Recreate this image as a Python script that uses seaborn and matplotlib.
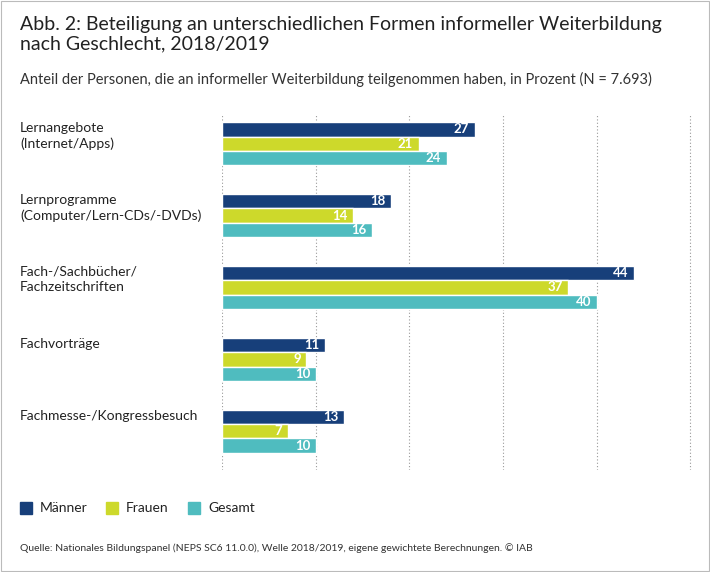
import pandas as pd
import matplotlib.pyplot as plt
import seaborn as sns
from matplotlib.patches import Rectangle

categories = ['Lernangebote\n(Internet/Apps)',
              'Lernprogramme\n(Computer/Lern-CDs/-DVDs)',
              'Fach-/Sachbücher/\nFachzeitschriften',
              'Fachvorträge',
              'Fachmesse-/Kongressbesuch']
maenner = [27, 18, 44, 11, 13]
frauen = [21, 14, 37, 9, 7]
gesamt = [24, 16, 40, 10, 10]
groups = ['Männer', 'Frauen', 'Gesamt']
colors = ['#173f7a', '#cdd92b', '#4fbcbf']

df = pd.DataFrame({'kat': categories * 3,
                   'gruppe': [g for g in groups for _ in categories],
                   'wert': maenner + frauen + gesamt})

sns.set_style('white')
plt.rcParams['font.family'] = ['Lato', 'DejaVu Sans']

fig = plt.figure(figsize=(7.1, 5.72), dpi=100)
fig.patches.append(Rectangle((0.002, 0.002), 0.996, 0.996, transform=fig.transFigure,
                             fill=False, edgecolor='#bbbbbb', lw=0.8))
ax = fig.add_axes([222 / 710, 1 - 470 / 572, (692 - 222) / 710, (470 - 115) / 572])
sns.barplot(data=df, y='kat', x='wert', hue='gruppe', palette=colors, orient='h',
            width=0.6, ax=ax, legend=False, saturation=1)
ax.set_xlim(0, 50.2)
ax.set_ylim(4.54, -0.4)
ax.set_xticks(range(0, 51, 10))
ax.set_xticklabels([])
ax.set_yticks([])
ax.set_xlabel('')
ax.set_ylabel('')
for s in ax.spines.values():
    s.set_visible(False)
ax.grid(axis='x', color='#999999', linestyle=(0, (1, 2)), lw=0.8)
ax.set_axisbelow(True)
ax.tick_params(length=0)

for cont in ax.containers:
    ax.bar_label(cont, padding=-4, color='white', fontweight='bold', fontsize=9.5,
                 label_type='edge', labels=[f'{int(v)}' for v in cont.datavalues])
    for t in ax.texts[-len(cont.datavalues):]:
        t.set_ha('right')

for i, c in enumerate(categories):
    ax.text(-202 / 470 * 50.2, i - 0.3, c, ha='left', va='top', fontsize=10, color='#222222',
            linespacing=1.3)

fig.text(20 / 710, 1 - 16 / 572, 'Abb. 2: Beteiligung an unterschiedlichen Formen informeller Weiterbildung\nnach Geschlecht, 2018/2019',
         ha='left', va='top', fontsize=14, color='#222222', linespacing=1.2)
fig.text(20 / 710, 1 - 72 / 572, 'Anteil der Personen, die an informeller Weiterbildung teilgenommen haben, in Prozent (N = 7.693)',
         ha='left', va='top', fontsize=10.5, color='#333333')

lx = [20, 106, 188]
for x, g, col in zip(lx, groups, colors):
    fig.patches.append(Rectangle((x / 710, 1 - 514 / 572), 12 / 710, 12 / 572,
                                 transform=fig.transFigure, color=col))
    fig.text((x + 20) / 710, 1 - 508 / 572, g, ha='left', va='center', fontsize=10, color='#222222')

fig.text(20 / 710, 1 - 548 / 572,
         'Quelle: Nationales Bildungspanel (NEPS SC6 11.0.0), Welle 2018/2019, eigene gewichtete Berechnungen. © IAB',
         ha='left', va='center', fontsize=7.5, color='#333333')

fig.savefig('out.png', dpi=100)
